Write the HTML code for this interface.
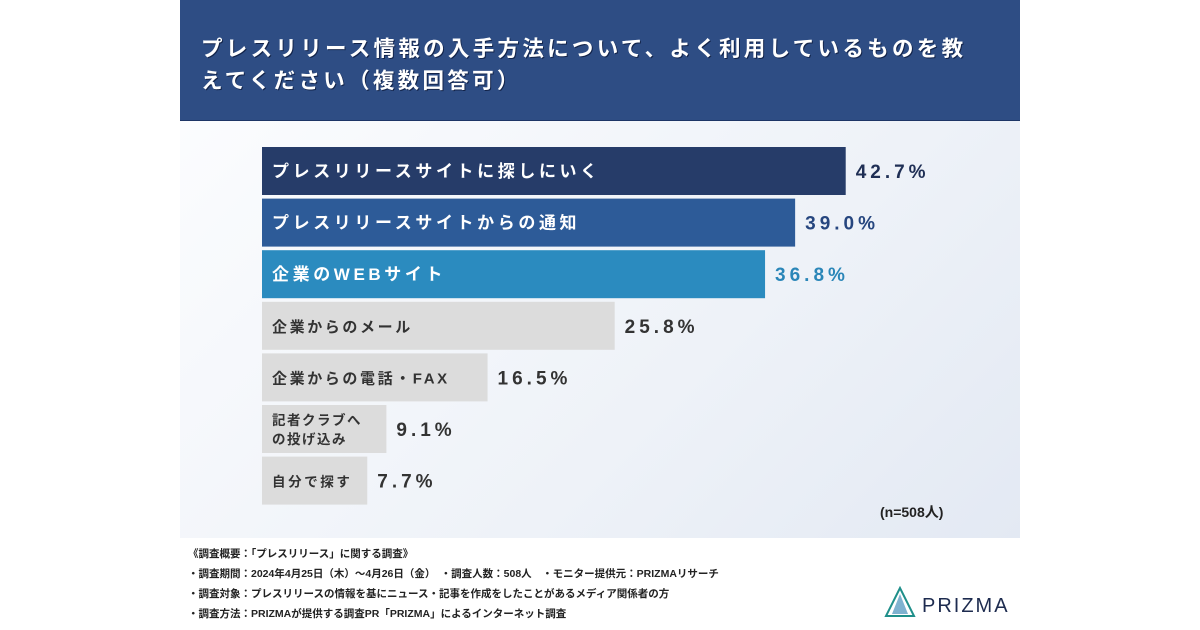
<!DOCTYPE html>
<html><head><meta charset="utf-8"><style>
body{margin:0;width:1200px;height:630px;background:#fff;position:relative;overflow:hidden;font-family:"Liberation Sans","Noto Sans CJK JP",sans-serif}
#hdr{position:absolute;left:180px;top:0;width:840px;height:120px;background:#2e4d84;border-bottom:1px solid #1d3566}
#title{position:absolute;left:201px;top:33px;color:#fff;font-size:21.5px;font-weight:bold;letter-spacing:3.3px;line-height:32px;text-shadow:1px 1px 0 #13244a;white-space:nowrap}
#plot{position:absolute;left:180px;top:121px;width:840px;height:417px;background:linear-gradient(135deg,#fbfcfe 0%,#eef2f8 60%,#e3e9f3 100%)}
.foot{position:absolute;left:188px;font-size:10.5px;font-weight:bold;color:#222}
</style></head><body>
<div id="hdr"></div>
<div id="title">プレスリリース情報の入手方法について、よく利用しているものを教<br>えてください（複数回答可）</div>
<div id="plot"></div>
<svg id="chart" width="1200" height="630" style="position:absolute;left:0;top:0"></svg>
<div class="foot" style="top:546px">《調査概要：「プレスリリース」に関する調査》</div>
<div class="foot" style="top:566px">・調査期間：2024年4月25日（木）～4月26日（金）　・調査人数：508人　・モニター提供元：PRIZMAリサーチ</div>
<div class="foot" style="top:586px">・調査対象：プレスリリースの情報を基にニュース・記事を作成をしたことがあるメディア関係者の方</div>
<div class="foot" style="top:606px">・調査方法：PRIZMAが提供する調査PR「PRIZMA」によるインターネット調査</div>
<svg style="position:absolute;left:884px;top:586px" width="130" height="34">
<polygon points="16,2 2,30 30,30" fill="none" stroke="#1f8f8a" stroke-width="2"/>
<polygon points="16,8 8,28 24,28" fill="#2a7fb0" opacity="0.6"/>
<text x="38" y="26" font-size="20" fill="#1d2b4f" letter-spacing="2" font-family="Liberation Sans">PRIZMA</text>
</svg>
<script>
const categories=["プレスリリースサイトに探しにいく","プレスリリースサイトからの通知","企業のWEBサイト","企業からのメール","企業からの電話・FAX","記者クラブへ|の投げ込み","自分で探す"];
const values=[42.7,39.0,36.8,25.8,16.5,9.1,7.7];
const valueLabels=["42.7%","39.0%","36.8%","25.8%","16.5%","9.1%","7.7%"];
const barColors=["#263c69","#2d5b98","#2b8bbf","#dcdcdc","#dcdcdc","#dcdcdc","#dcdcdc"];
const valColors=["#1f2f55","#26467f","#2a86b8","#333","#333","#333","#333"];
const svg=document.getElementById('chart');const NS="http://www.w3.org/2000/svg";
const x0=262,pxPer=13.67;
const xs=v=>v*pxPer;
const yTop=i=>147+i*51.6;
const bh=48;
values.forEach((v,i)=>{
 const r=document.createElementNS(NS,'rect');
 r.setAttribute('x',x0);r.setAttribute('y',yTop(i));r.setAttribute('width',xs(v));r.setAttribute('height',bh);r.setAttribute('fill',barColors[i]);
 
 
 svg.appendChild(r);
 const lines=categories[i].split('|');
 lines.forEach((ln,j)=>{
  const t=document.createElementNS(NS,'text');
  const small=lines.length>1;
  const fs=small?13.5:(i<3?17:(lines[0].length<=5?13.5:15));
  t.setAttribute('x',272);
  t.setAttribute('y',small?yTop(i)+20+j*19:yTop(i)+bh/2+6);
  t.setAttribute('font-size',fs);t.setAttribute('font-weight','bold');
  t.setAttribute('letter-spacing',small?1.5:(i<3?3.6:2.6));
  t.setAttribute('fill',i<3?'#fff':'#333');
  t.textContent=ln;
  
  
  svg.appendChild(t);
 });
 const vt=document.createElementNS(NS,'text');
 vt.setAttribute('x',x0+xs(v)+10);vt.setAttribute('y',yTop(i)+bh/2+7);
 vt.setAttribute('font-size',19);vt.setAttribute('font-weight','bold');vt.setAttribute('letter-spacing',4);
 vt.setAttribute('fill',valColors[i]);vt.textContent=valueLabels[i];
 
 
 svg.appendChild(vt);
});
const n=document.createElementNS(NS,'text');
n.setAttribute('x',880);n.setAttribute('y',517);n.setAttribute('font-size',14);n.setAttribute('font-weight','bold');n.setAttribute('fill','#222');
n.textContent="(n=508人)";


svg.appendChild(n);
</script>
</body></html>
